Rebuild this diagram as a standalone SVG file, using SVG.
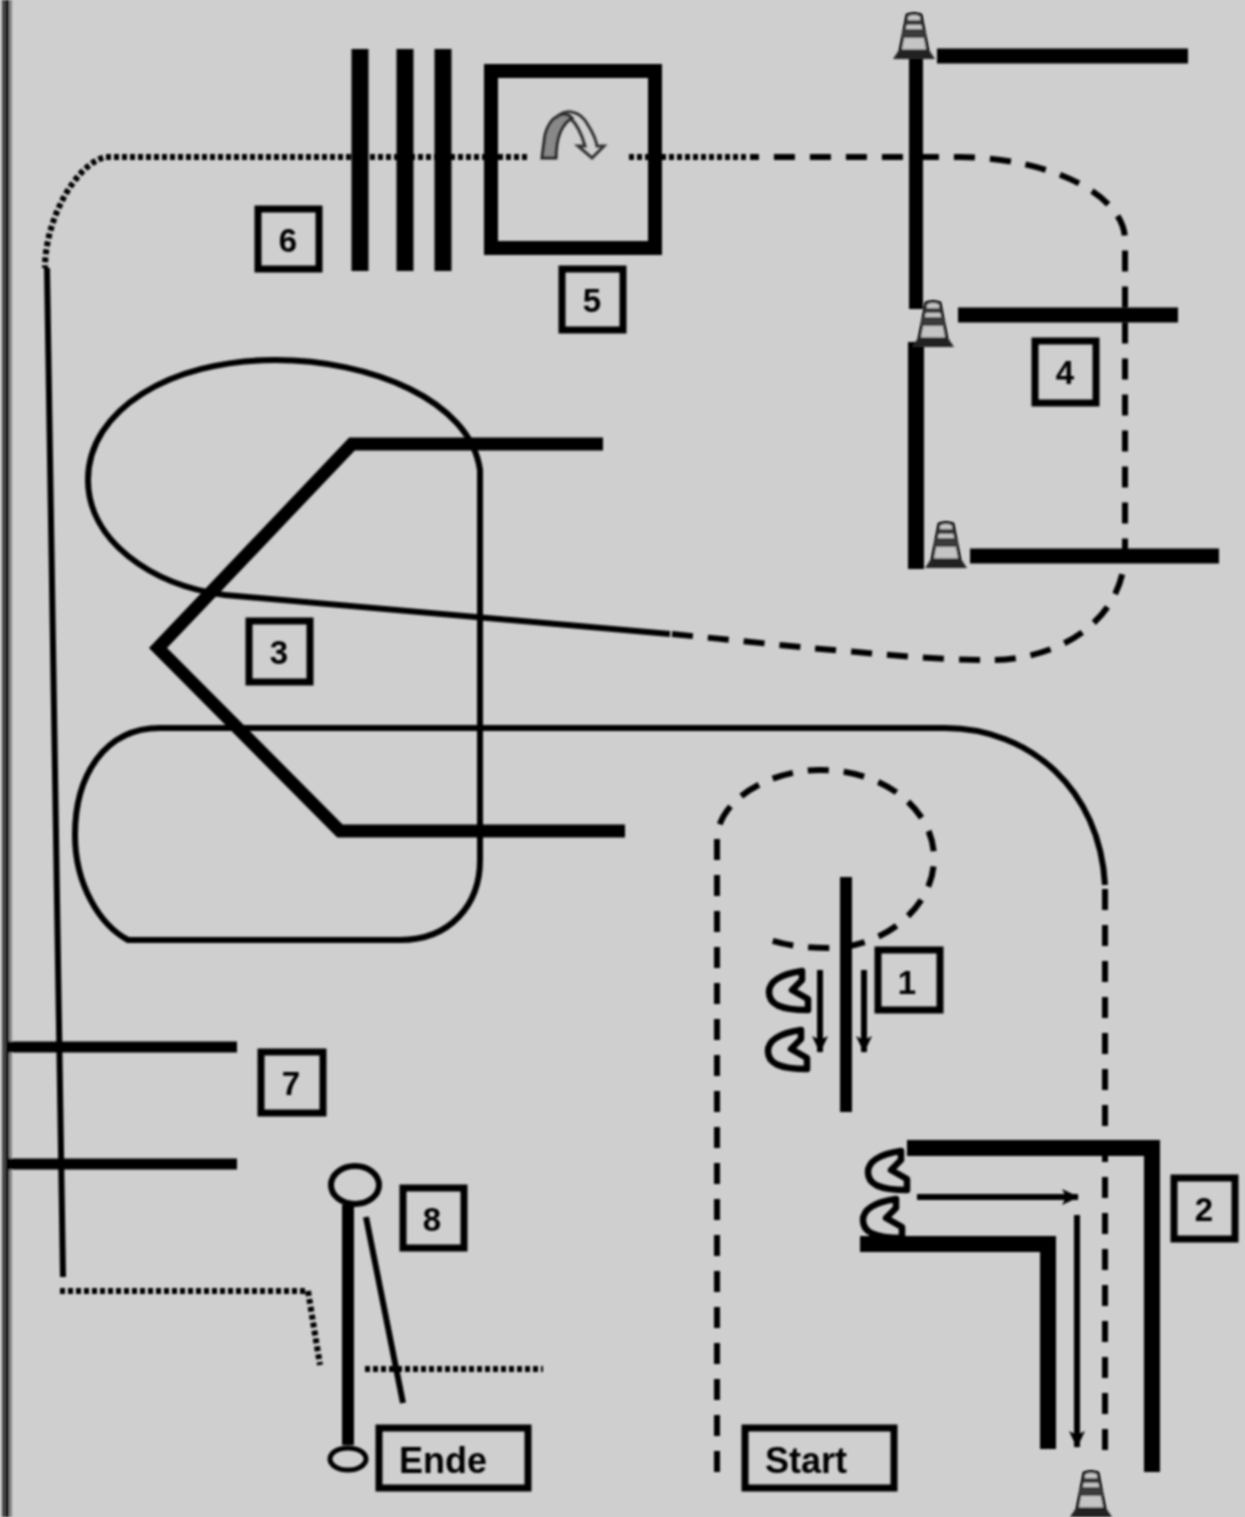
<svg xmlns="http://www.w3.org/2000/svg" width="1245" height="1517" viewBox="0 0 1245 1517">
<style>
.b{fill:none;stroke:#000;stroke-linecap:butt}
.box{fill:none;stroke:#000;stroke-width:7}
.num{font-family:"Liberation Sans",Arial,sans-serif;font-weight:700;font-size:33px;fill:#000;text-anchor:middle}
.lbl{font-family:"Liberation Sans",Arial,sans-serif;font-weight:700;font-size:36px;fill:#000;text-anchor:middle}
.solid{fill:none;stroke:#000;stroke-width:6}
.dash{fill:none;stroke:#000;stroke-width:6;stroke-dasharray:21 15}
.dot{fill:none;stroke:#000;stroke-width:6;stroke-dasharray:5 3}
</style>
<defs>
<filter id="soft" x="0" y="0" width="100%" height="100%" filterUnits="userSpaceOnUse"><feGaussianBlur stdDeviation="0.8"/></filter>
<marker id="ah" markerUnits="userSpaceOnUse" markerWidth="22" markerHeight="22" refX="17" refY="11" orient="auto"><path d="M1 3 L18 11 L1 19 L5 11 Z" fill="#000"/></marker>
<g id="cone">
<path d="M-14 -8 L-7 -44 Q0 -47 7 -44 L14 -8Z" fill="#c4c4c4" stroke="#000" stroke-width="3"/>
<path d="M-12 -21 H12 L10 -30 H-10Z" fill="#3a3a3a"/>
<path d="M-8.500 -34 H8.500 L7.500 -39 H-7.500Z" fill="#3a3a3a"/>
<path d="M-21 0 H21 L15 -9 H-15Z" fill="#222"/>
</g>
<path id="mag" d="M36 3 C14 6 3 14 3 24 C3 36 14 42 42 42 V31 L26 22 L36 12Z" fill="none" stroke="#000" stroke-width="6.500" stroke-linejoin="round"/>
</defs>
<rect width="1245" height="1517" fill="#cfcfcf"/>
<g filter="url(#soft)">
<g id="border"><rect x="2" y="0" width="4" height="1517" fill="#444"/><rect x="6" y="0" width="3" height="1517" fill="#000"/><rect x="9" y="0" width="3" height="1517" fill="#888"/></g>

<g id="connectors">
<path class="dash" d="M717 1472V840C717 800 770 770 820 770C885 770 934 810 934 858C934 910 880 948 830 948C805 948 785 945 770 940"/>
<path class="dash" d="M1105 1450V885"/>
<path class="solid" d="M1105 885C1100 790 1030 728 945 728H160C105 728 75 775 75 835C75 885 100 925 128 940H400C450 940 480 905 480 860V470C470 400 370 360 275 360C170 360 88 410 88 480C88 540 150 585 225 595L670 634"/>
<path class="dash" d="M672 634L810 648C860 652 930 660 990 660C1060 660 1125 620 1125 550V240C1125 195 1050 158 960 157H750"/>
<path class="dot" d="M746 157H627"/>
<path class="dot" d="M527 157H105C75 165 45 220 45 268"/>
<path class="solid" d="M47 268L63 1277"/>
<path class="dot" d="M60 1291H308L320 1365"/>
<path class="dot" d="M365 1369H543"/>
<path class="solid" d="M366 1217L403 1403"/>
<path class="solid" d="M820 970V1052" marker-end="url(#ah)"/>
<path class="solid" d="M864 970V1052" marker-end="url(#ah)"/>
<path class="solid" d="M917 1197H1078" marker-end="url(#ah)"/>
<path class="solid" d="M1077 1215V1447" marker-end="url(#ah)"/>
</g>

<g id="stations">
<path class="b" stroke-width="17" d="M360 49V271M405 49V271M443 49V271"/>
<rect id="square" x="491" y="71" width="164" height="177" fill="none" stroke="#000" stroke-width="14"/>
<path d="M542 158H556C556 142 560 125 572 118C565 110 550 115 545 135Z" fill="#888" stroke="#222" stroke-width="3"/>
<path d="M556 118C565 108 580 110 588 125C593 133 596 140 597 146L604 146L592 158L578 146L585 146C582 135 578 125 570 118" fill="none" stroke="#333" stroke-width="3"/>
<path class="b" stroke-width="14" d="M916 55V309"/>
<path class="b" stroke-width="16" d="M916 342V569"/>
<path class="b" stroke-width="15" d="M937 56H1188"/>
<path class="b" stroke-width="15" d="M958 315H1178"/>
<path class="b" stroke-width="15" d="M970 556H1219"/>
<path class="b" stroke-width="13" stroke-linejoin="miter" d="M603 444H352L158 648L340 831H625"/>
<path class="b" stroke-width="12" d="M846 877V1112"/>
<path class="b" stroke-width="16" stroke-linejoin="miter" d="M907 1148H1152V1472"/>
<path class="b" stroke-width="16" stroke-linejoin="miter" d="M860 1244H1048V1449"/>
<path class="b" stroke-width="11" d="M8 1047H237M8 1164H237"/>
<path class="b" stroke-width="12" d="M348 1205V1445"/>
<ellipse cx="355" cy="1185" rx="24" ry="19" fill="none" stroke="#000" stroke-width="6"/>
<ellipse cx="348" cy="1459" rx="18" ry="11" fill="none" stroke="#000" stroke-width="5"/>
<use href="#cone" x="914" y="59"/>
<use href="#cone" x="933" y="347"/>
<use href="#cone" x="946" y="568"/>
<use href="#cone" x="1091" y="1517"/>
<use href="#mag" x="766" y="968"/>
<use href="#mag" x="765" y="1027"/>
<use href="#mag" x="865" y="1148"/>
<use href="#mag" x="860" y="1196"/>
</g>

<g id="n1"><rect class="box" x="878" y="950" width="62" height="60"/><text class="num" x="907" y="994">1</text></g>
<g id="n2"><rect class="box" x="1174" y="1178" width="61" height="61"/><text class="num" x="1204" y="1221">2</text></g>
<g id="n3"><rect class="box" x="249" y="621" width="61" height="61"/><text class="num" x="279" y="664">3</text></g>
<g id="n4"><rect class="box" x="1035" y="341" width="61" height="62"/><text class="num" x="1065" y="384">4</text></g>
<g id="n5"><rect class="box" x="562" y="269" width="61" height="61"/><text class="num" x="592" y="312">5</text></g>
<g id="n6"><rect class="box" x="258" y="209" width="61" height="60"/><text class="num" x="288" y="252">6</text></g>
<g id="n7"><rect class="box" x="261" y="1052" width="62" height="61"/><text class="num" x="291" y="1095">7</text></g>
<g id="n8"><rect class="box" x="403" y="1188" width="61" height="60"/><text class="num" x="432" y="1231">8</text></g>
<g id="ende"><rect class="box" x="379" y="1428" width="149" height="60"/><text class="lbl" x="443" y="1473">Ende</text></g>
<g id="start"><rect class="box" x="745" y="1428" width="149" height="60"/><text class="lbl" x="806" y="1473">Start</text></g>
</g>
</svg>
